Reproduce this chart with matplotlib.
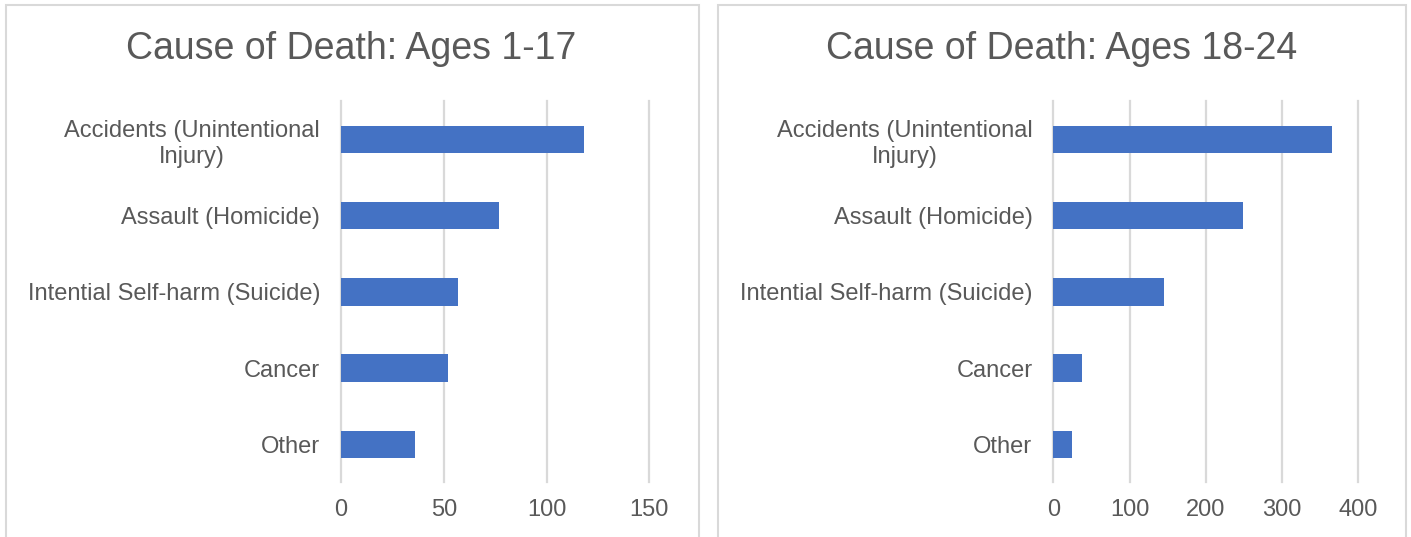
import matplotlib
matplotlib.use("Agg")
import matplotlib.pyplot as plt
from matplotlib.patches import Rectangle

plt.rcParams['font.family'] = ['Liberation Sans', 'DejaVu Sans']

causes = ["Accidents (Unintentional\nInjury)", "Assault (Homicide)",
          "Intential Self-harm (Suicide)", "Cancer", "Other"]
deaths_1_17 = [118, 77, 57, 52, 36]
deaths_18_24 = [365, 249, 145, 38, 25]
ticks_1_17 = [0, 50, 100, 150]
ticks_18_24 = [0, 100, 200, 300, 400]
titles = ["Cause of Death: Ages 1-17", "Cause of Death: Ages 18-24"]

BAR = "#4472C4"
GRID = "#D9D9D9"
TEXT = "#595959"

W, H = 1411, 537
fig = plt.figure(figsize=(W / 100, H / 100), dpi=100)
fig.patch.set_facecolor("white")

# chart frames
for x0, x1 in [(6, 699), (718, 1406)]:
    fig.add_artist(Rectangle((x0 / W, -0.05), (x1 - x0) / W, (H - 5) / H + 0.05,
                             transform=fig.transFigure, fill=False,
                             edgecolor=GRID, linewidth=1.5))

panels = [
    (341, 649.3, deaths_1_17, ticks_1_17, titles[0], 351),
    (1053.3, 1358.3, deaths_18_24, ticks_18_24, titles[1], 1062),
]
top_px, bot_px = 101.4, 482.4

for x0, x1, vals, ticks, title, tcx in panels:
    ax = fig.add_axes([x0 / W, 1 - bot_px / H, (x1 - x0) / W, (bot_px - top_px) / H])
    ypos = list(range(len(causes)))
    ax.barh(ypos, vals, height=0.36, color=BAR, zorder=3)
    ax.set_xlim(ticks[0], ticks[-1])
    ax.set_ylim(len(causes) - 0.5, -0.5)
    ax.set_xticks(ticks)
    ax.set_yticks(ypos)
    ax.set_yticklabels(causes, multialignment="center", linespacing=1.25)
    ax.grid(axis="x", color=GRID, linewidth=1.6, zorder=0)
    for gl in ax.get_xgridlines():
        gl.set_clip_on(False)
    for s in ax.spines.values():
        s.set_visible(False)
    ax.tick_params(axis="both", length=0, labelsize=17, labelcolor=TEXT)
    ax.tick_params(axis="y", pad=15)
    ax.tick_params(axis="x", pad=12)
    fig.text(tcx / W, 1 - 49 / H, title, ha="center", va="center",
             fontsize=27, color=TEXT)

fig.savefig("out.png", dpi=100, facecolor="white")
